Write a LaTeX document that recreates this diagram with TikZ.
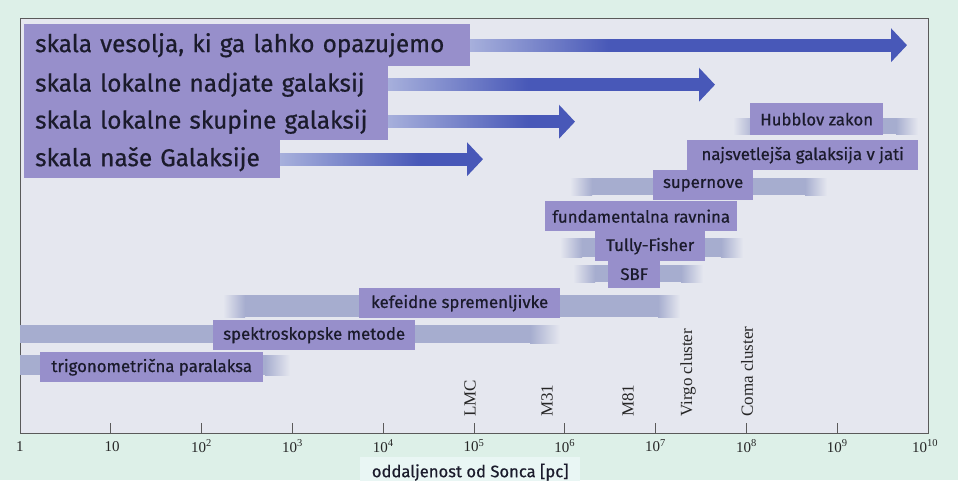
\documentclass[tikz,border=0pt]{standalone}
\usepackage{fontspec}
\setmainfont{Liberation Serif}
\newfontfamily\boxfont[FakeBold=0.6]{Fira Sans}
\usetikzlibrary{arrows.meta,fadings}
\definecolor{mint}{HTML}{DDF0E8}
\definecolor{panel}{HTML}{E5E7EF}
\definecolor{boxpurple}{HTML}{978FCB}
\definecolor{txtdark}{HTML}{1B1B2C}
\definecolor{arrowblue}{HTML}{4858B8}
\definecolor{arrowlight}{HTML}{A7B0DC}
\definecolor{bandcol}{HTML}{A6ADCF}
\definecolor{titlebg}{HTML}{E9F6F4}
\definecolor{framecol}{HTML}{5A5A5A}
\tikzfading[name=fadeout, left color=transparent!0, right color=transparent!100]
\newcommand{\fuzzband}[4]{%
  \shade[left color=panel, right color=bandcol] (#1,#3) rectangle (#1+22,#4);
  \fill[bandcol] (#1+22,#3) rectangle (#2-22,#4);
  \shade[left color=bandcol, right color=panel] (#2-22,#3) rectangle (#2,#4);}
\begin{document}
\begin{tikzpicture}[x=1pt,y=-1pt,
  rowbox/.style={fill=boxpurple, anchor=north west, inner xsep=11pt, inner ysep=0pt,
    font=\boxfont\fontsize{24.4}{28}\selectfont, text=txtdark, align=left},
  mbox/.style={fill=boxpurple, anchor=north west, inner sep=0pt,
    font=\boxfont\fontsize{16.8}{19}\selectfont, text=txtdark},
  bigarrow/.style={line width=13pt, arrowblue, -{Triangle[length=16pt,width=33pt]}},
  ticklab/.style={font=\fontsize{15}{18}\selectfont, text=black!85},
  vlab/.style={rotate=90, anchor=west, inner sep=0pt, font=\fontsize{17}{20}\selectfont, text=black!85},
  tickmark/.style={draw=framecol, line width=0.8pt}]
\fill[mint] (0,0) rectangle (958,480);
\useasboundingbox (0,0) rectangle (958,480);
\fill[panel] (20,18) rectangle (928,433);
\draw[framecol, line width=0.8pt] (20,18) rectangle (928,433);
% ticks
\foreach \k in {1,...,9} \draw[tickmark] (20+90.8*\k,433) -- ++(0,-10);
% tick labels
\node[ticklab] (l0) at (20,447) {1};
\node[ticklab] (l1) at (112,447) {10};
\foreach \k in {2,...,9} \node[ticklab] (l\k) at (20+90.8*\k,446) {10\textsuperscript{\k}};
\node[ticklab] (l10) at (925,446) {10\textsuperscript{10}};
% axis title
\node[fill=titlebg, anchor=north west, minimum width=220pt, minimum height=30pt, inner sep=0pt,
  font=\boxfont\fontsize{16.6}{19}\selectfont, text=txtdark] (axtitle) at (360,457) {oddaljenost od Sonca [pc]};
% object labels
\node[vlab] (lmc) at (470,417) {LMC};
\node[vlab] (m31) at (547,417) {M31};
\node[vlab] (m81) at (628,417) {M81};
\node[vlab] (virgo) at (688,417) {Virgo cluster};
\node[vlab] (coma) at (747,417) {Coma cluster};
% fuzzy bands
\fuzzband{733}{918}{118}{134}
\fuzzband{570}{827}{178}{195}
\fuzzband{560}{743}{238}{257}
\fuzzband{573}{703}{265}{282}
\fuzzband{223}{680}{295}{317}
\fill[bandcol] (20.4,325) rectangle (530,343);
\shade[left color=bandcol, right color=panel] (530,325) rectangle (560,343);
\fill[bandcol] (20.4,355) rectangle (265,375);
\shade[left color=bandcol, right color=panel] (265,355) rectangle (290,375);
% method boxes
\node[mbox, minimum width=133pt, minimum height=32pt] (hub) at (750,103) {Hubblov zakon};
\node[mbox, minimum width=231pt, minimum height=30pt] (najs) at (687,140) {najsvetlejša galaksija v jati};
\node[mbox, minimum width=100pt, minimum height=30pt] (sup) at (653,170) {supernove};
\node[mbox, minimum width=192pt, minimum height=30pt] (fund) at (545,201) {fundamentalna ravnina};
\node[mbox, minimum width=110pt, minimum height=30pt] (tully) at (595,231) {Tully-Fisher};
\node[mbox, minimum width=52pt, minimum height=28pt] (sbf) at (608,260) {SBF};
\node[mbox, minimum width=201pt, minimum height=30pt] (kef) at (359,288) {kefeidne spremenljivke};
\node[mbox, minimum width=202pt, minimum height=30pt] (spek) at (213,320) {spektroskopske metode};
\node[mbox, minimum width=223pt, minimum height=30pt] (trig) at (40,352) {trigonometrična paralaksa};
% scale rows
\node[rowbox, text width=424pt, minimum height=42pt] (r1) at (24,24) {skala vesolja, ki ga lahko opazujemo};
\node[rowbox, text width=342pt, minimum height=37pt] (r2) at (24,66) {skala lokalne nadjate galaksij};
\node[rowbox, text width=342pt, minimum height=37pt] (r3) at (24,103) {skala lokalne skupine galaksij};
\node[rowbox, text width=234pt, minimum height=38pt] (r4) at (24,140) {skala naše Galaksije};
% arrow tips
\coordinate (t1) at (907,47);
\coordinate (t2) at (715,86);
\coordinate (t3) at (575,123);
\coordinate (t4) at (483,160);
\foreach \r/\t in {r1/t1,r2/t2,r3/t3,r4/t4}{
  \draw[bigarrow] (\r.east) -- (\r.east -| \t);
  \fill[arrowlight, path fading=fadeout] ([yshift=-6.5pt]\r.east) rectangle ([xshift=140pt,yshift=6.5pt]\r.east);
}
\end{tikzpicture}
\end{document}
